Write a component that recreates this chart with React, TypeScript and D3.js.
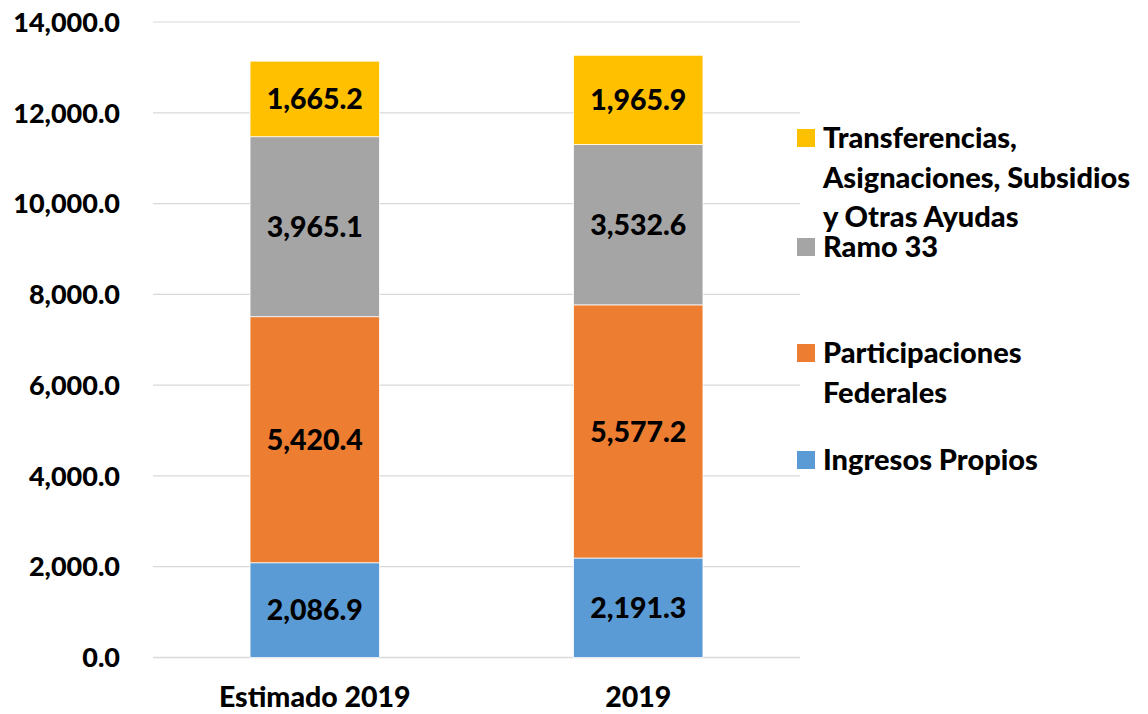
import React from "react";
import * as d3 from "d3";

const categories = ["Estimado 2019", "2019"];
const ingresosPropios = [2086.9, 2191.3];
const participaciones = [5420.4, 5577.2];
const ramo33 = [3965.1, 3532.6];
const transferencias = [1665.2, 1965.9];
const yTicks = [0, 2000, 4000, 6000, 8000, 10000, 12000, 14000];

const seriesNames = ["Ingresos Propios", "Participaciones Federales", "Ramo 33", "Transferencias, Asignaciones, Subsidios y Otras Ayudas"];
const seriesColors = ["#5b9bd5", "#ed7d31", "#a5a5a5", "#ffc000"];
const legendLines: string[][] = [
  ["Transferencias,", "Asignaciones, Subsidios", "y Otras Ayudas"],
  ["Ramo 33"],
  ["Participaciones", "Federales"],
  ["Ingresos Propios"],
];
const legendColors = ["#ffc000", "#a5a5a5", "#ed7d31", "#5b9bd5"];
const legendTop = [138, 247, 353, 460];

const W = 1148, H = 714;
const FONT = "Lato, 'Open Sans', sans-serif";
const WEIGHT = 900;

export default function App() {
  const x = d3.scaleBand<string>().domain(categories).range([153, 800]).paddingInner(0.6).paddingOuter(0.3);
  const y = d3.scaleLinear().domain([0, 14000]).range([657.5, 22]);
  const fmt = d3.format(",.1f");

  const rows = categories.map((c, i) => ({
    cat: c,
    s0: ingresosPropios[i],
    s1: participaciones[i],
    s2: ramo33[i],
    s3: transferencias[i],
  }));
  const stack = d3.stack<any>().keys(["s0", "s1", "s2", "s3"])(rows);

  return (
    <svg width={W} height={H} style={{ position: "absolute", left: 0, top: 0, fontFamily: FONT }}>
      <rect width={W} height={H} fill="#fff" />
      {yTicks.map((t) => (
        <g key={t}>
          <line x1={153} x2={800} y1={y(t)} y2={y(t)} stroke="#d9d9d9" strokeWidth={t === 0 ? 1.5 : 1.2} />
          <text x={120} y={y(t)} dy="0.36em" textAnchor="end" fontSize={27} fontWeight={WEIGHT} fill="#000">
            {fmt(t)}
          </text>
        </g>
      ))}
      {stack.map((layer, si) => (
        <g key={si}>
          {layer.map((d, i) => {
            const x0 = x(categories[i])!;
            const yTop = y(d[1]);
            const yBot = y(d[0]);
            return (
              <g key={i}>
                <rect x={x0} y={yTop} width={x.bandwidth()} height={yBot - yTop} fill={seriesColors[si]} stroke="#fff" strokeWidth={0.75} />
                <text x={x0 + x.bandwidth() / 2} y={(yTop + yBot) / 2} dy="0.36em" textAnchor="middle" fontSize={28.5} fontWeight={WEIGHT} fill="#000">
                  {fmt(d[1] - d[0])}
                </text>
              </g>
            );
          })}
        </g>
      ))}
      {categories.map((c) => (
        <text key={c} x={x(c)! + x.bandwidth() / 2} y={697} dy="0.36em" textAnchor="middle" fontSize={28.5} fontWeight={WEIGHT} fill="#000">
          {c}
        </text>
      ))}
      {legendLines.map((lines, li) => (
        <g key={li}>
          <rect x={797} y={legendTop[li] - 9} width={18} height={18} fill={legendColors[li]} />
          {lines.map((ln, k) => (
            <text key={k} x={823} y={legendTop[li] + k * 39.5} dy="0.36em" fontSize={29} fontWeight={WEIGHT} fill="#000">
              {ln}
            </text>
          ))}
        </g>
      ))}
    </svg>
  );
}
